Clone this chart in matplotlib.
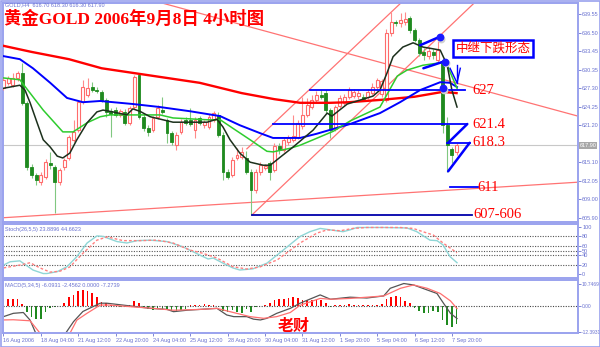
import matplotlib
matplotlib.use('Agg')
import matplotlib.pyplot as plt
import numpy as np

# ---------------- data ----------------
opens = [627.3, 628.2, 627.8, 629.0, 629.8, 624.9, 614.3, 613.0, 611.8, 612.7,
         614.9, 614.3, 611.8, 614.3, 615.8, 618.8, 620.4, 625.0, 626.2, 627.5,
         627.0, 626.7, 625.4, 623.5, 623.7, 622.9, 623.4, 621.6, 624.2, 629.5,
         622.5, 620.7, 620.4, 622.5, 623.7, 622.0, 619.9, 617.9, 620.1, 622.1,
         622.1, 620.4, 622.4, 621.2, 620.9, 622.1, 622.9, 619.6, 613.5, 613.0,
         615.8, 616.0, 615.8, 613.5, 610.5, 613.5, 614.2, 614.9, 613.8, 617.8,
         617.1, 618.4, 618.8, 619.3, 621.0, 622.9, 624.2, 625.4, 626.2, 626.5,
         623.7, 620.5, 624.4, 624.9, 625.9, 626.0, 626.0, 625.9, 625.8, 626.5,
         627.5, 626.4, 625.4, 636.4, 638.3, 638.0, 638.3, 638.9, 636.9, 635.3,
         633.3, 632.6, 633.3, 632.0, 631.6, 621.2, 617.3, 616.7]
highs = [629.2, 629.3, 629.9, 630.2, 631.5, 625.2, 614.8, 613.3, 613.5, 615.6,
         616.8, 614.6, 614.2, 615.8, 619.6, 622.1, 625.4, 628.7, 629.0, 628.3,
         627.5, 627.0, 625.7, 624.0, 624.2, 623.9, 623.8, 624.3, 629.5, 629.8,
         623.0, 621.2, 622.8, 624.5, 625.9, 622.4, 620.3, 620.0, 622.2, 622.5,
         624.0, 622.5, 622.8, 622.1, 623.0, 623.6, 623.4, 620.0, 614.0, 615.9,
         617.4, 617.6, 617.0, 614.0, 614.0, 615.2, 614.8, 615.3, 618.2, 618.3,
         619.2, 619.6, 622.9, 622.0, 625.9, 625.7, 626.2, 626.8, 627.0, 627.0,
         624.0, 624.6, 626.2, 626.4, 627.5, 627.2, 627.0, 626.3, 627.1, 628.2,
         629.0, 628.9, 637.1, 639.9, 638.6, 639.7, 639.9, 639.3, 637.2, 635.6,
         634.0, 634.1, 633.7, 635.2, 632.0, 622.5, 617.6, 618.3]
lows = [627.0, 627.9, 627.5, 628.5, 624.5, 613.8, 612.5, 611.3, 611.4, 612.3,
        614.0, 606.7, 611.4, 613.8, 615.5, 618.4, 620.0, 624.7, 625.9, 626.7,
        626.5, 625.0, 622.5, 619.3, 622.5, 622.6, 621.2, 621.2, 623.9, 622.2,
        620.3, 619.5, 620.0, 622.2, 623.0, 618.3, 618.0, 617.1, 619.8, 621.2,
        621.0, 619.1, 621.2, 620.8, 620.5, 621.8, 619.2, 612.2, 612.3, 612.6,
        615.4, 615.6, 613.1, 606.4, 610.0, 613.0, 613.8, 612.2, 613.4, 616.5,
        616.8, 618.0, 618.4, 618.9, 620.6, 622.6, 623.9, 625.0, 625.5, 623.3,
        619.1, 620.2, 624.0, 624.5, 625.5, 625.7, 625.6, 625.2, 625.5, 626.2,
        627.2, 625.9, 625.1, 635.9, 637.6, 637.4, 637.8, 636.5, 635.0, 632.6,
        631.9, 632.2, 632.2, 631.7, 619.9, 613.5, 614.9, 616.3]
closes = [628.7, 629.0, 629.0, 629.8, 624.9, 614.3, 613.0, 612.2, 613.0, 615.1,
          614.6, 611.8, 613.8, 615.5, 619.2, 620.1, 625.0, 627.5, 627.3, 627.0,
          626.9, 625.4, 623.4, 623.1, 622.9, 623.5, 621.6, 624.0, 629.2, 622.5,
          620.7, 620.1, 622.4, 624.0, 623.4, 619.9, 618.4, 619.6, 621.7, 621.6,
          621.4, 622.1, 621.6, 621.7, 622.6, 623.2, 619.6, 613.5, 612.7, 615.5,
          616.3, 616.8, 613.5, 610.5, 613.5, 614.6, 614.4, 613.5, 617.8, 617.1,
          618.8, 619.1, 619.4, 621.6, 622.9, 624.5, 625.4, 626.2, 625.9, 623.7,
          620.4, 624.2, 625.7, 625.9, 627.0, 626.7, 626.5, 625.6, 626.7, 627.5,
          628.7, 628.5, 636.4, 638.2, 638.0, 638.6, 638.8, 636.9, 635.3, 633.1,
          632.8, 633.5, 632.8, 633.6, 621.2, 617.9, 616.3, 617.9]

ma_red_idx = [0, 6, 14, 21, 28, 35, 42, 51, 58, 63.5, 70, 74, 81, 88, 94, 97]
ma_red_val = [634.3, 633.3, 632.1, 630.6, 629.8, 629.0, 628.2, 626.5, 625.5,
              624.9, 624.9, 625.0, 625.4, 625.9, 626.7, 626.5]
ma_blue_idx = [0, 3.5, 6.3, 10, 13.6, 17, 20.7, 27.7, 33.5, 40, 46.4, 50.6, 54.9,
               57.7, 63.5, 67.1, 74.2, 80.6, 84.9, 89.2, 93.5, 95.6, 97.1]
ma_blue_val = [632.6, 632.1, 630.6, 628.2, 625.7, 625.0, 625.2, 624.7, 624.2,
               623.5, 622.7, 621.2, 619.9, 619.1, 619.1, 619.8, 621.4, 623.2,
               625.0, 627.0, 628.3, 628.2, 627.5]
ma_green_idx = [0, 3.5, 6.3, 8.5, 12.7, 14.9, 17.9, 20.7, 22.8, 27.7, 33.5, 36.3,
                43.6, 46.4, 49.1, 52.8, 56.4, 57.7, 61.4, 63.5, 66.3, 70.6, 74.2,
                80.6, 84.3, 86.4, 89.8, 93.5, 95.0, 97.1]
ma_green_val = [629.0, 628.7, 625.9, 623.7, 620.1, 620.1, 621.6, 622.6, 622.9,
                622.9, 622.9, 622.4, 622.1, 622.1, 620.7, 618.8, 616.9, 616.8,
                617.4, 617.9, 618.8, 620.2, 621.9, 624.2, 629.3, 630.3, 631.1,
                631.5, 631.1, 627.3]
ma_dark_idx = [0, 3.5, 4.6, 5.7, 7.2, 8.5, 10, 11.5, 12.7, 14.2, 15.7, 17.9, 20,
               21.3, 23.4, 26.4, 27.7, 29.2, 31.4, 36.3, 43.6, 45.7, 47.0, 48.5,
               50.6, 52.8, 55.6, 57.1, 59.2, 62.0, 66.3, 69.3, 70.3, 73.6, 79.1,
               80.6, 82.1, 83.4, 85.5, 87.7, 89.8, 93.5, 95.0, 96.0, 97.1]
ma_dark_val = [627.3, 627.8, 627.0, 624.9, 621.6, 618.8, 617.6, 616.1, 615.8,
               616.6, 618.8, 621.6, 623.4, 623.7, 623.4, 622.9, 623.9, 623.5,
               622.6, 621.7, 621.7, 622.2, 620.9, 618.8, 616.6, 615.1, 614.6,
               614.6, 615.9, 617.6, 620.4, 623.2, 622.7, 624.7, 626.0, 627.0,
               629.8, 632.5, 634.1, 634.8, 634.1, 633.6, 631.1, 627.0, 624.2]

stoch_main_idx = [0, 1.4, 3.5, 6.3, 8.5, 9.3, 11.5, 13.6, 15.7, 17.9, 20, 21.3,
                  24.3, 26.4, 28.6, 31.4, 35, 38.4, 42.1, 43.8, 44.9, 47, 49.1,
                  50.6, 53.4, 56.4, 59.9, 63.5, 65.6, 67.8, 69.9, 72.7, 74.2,
                  75.7, 81.3, 86.4, 88.5, 91.3, 92.8, 94.1, 95.6, 97.1]
stoch_main_val = [19, 26, 28, 8.5, 1, 1, 5, 15.6, 37, 66, 81, 80, 69, 66, 71, 72,
                  69, 58, 40, 32, 34, 23, 13, 8.5, 11, 23, 51, 80, 90, 97, 94, 90,
                  94, 99, 99, 98, 90, 72, 71, 62, 37, 24]
stoch_sig_idx = [0, 3.5, 5.7, 7.8, 10, 12.1, 14.2, 17, 20, 22.2, 25.6, 29.2, 32.9,
                 36.3, 39.9, 42.7, 45.7, 49.1, 52.1, 54.9, 58.6, 62, 63.5, 67.1,
                 69.3, 72.1, 74.8, 77.8, 84.9, 87.7, 89.8, 92, 94.1, 97.1]
stoch_sig_val = [13, 19, 24, 13, 4, 6, 15, 44, 72, 79, 71, 71, 72, 66, 51, 44, 34,
                 15.6, 10.6, 15, 30, 55, 66, 87, 94, 92, 97, 99, 99, 97, 90, 83,
                 66, 45]
stoch_levels = [80, 60, 50, 40, 20]

macd_hist = [3.3, 3.4, 3.4, 3.3, 1.0, -2.6, -5.0, -6.3, -6.0, -2.6,
             -1.0, -0.5, 0.3, 1.7, 4.3, 5.5, 7.4, 7.9, 7.6, 6.6,
             4.7, 2.3, 1.5, 0.7, 0.3, -0.4, -0.5, 0.4, 2.6, 1.5,
             -1.0, -1.5, -1.8, -1.2, -1.5, -2.0, -2.5, -2.2, -1.8, -1.2,
             0.5, 0.8, 0.5, 0.9, 0.6, 0.8, -0.5, -2.4, -2.6, -1.8,
             -2.6, -3.0, -1.5, -2.6, -0.5, 0.3, 0.7, 1.5, 3.0, 3.3,
             3.3, 3.8, 4.3, 3.8, 2.8, 3.2, 3.0, 3.0, 2.8, 1.5,
             -0.5, 0.5, 0.8, 0.6, 1.0, 0.7, 0.5, 0.6, 0.8, 0.5,
             0.7, 1.0, 3.3, 4.6, 5.1, 4.6, 2.7, 1.5, -1.0, -2.2,
             -3.4, -3.1, -2.2, -2.7, -6.7, -9.2, -10.0, -8.4]
macd_line_idx = [0, 2.1, 4.25, 5.7, 7, 10, 13, 15, 17, 20.7, 22.1, 27.8, 31.4, 35,
                 36.4, 39.3, 42.1, 45.7, 47.8, 49.3, 52.1, 53.5, 55, 56.4, 58.5,
                 61.4, 63.5, 67.8, 70, 74.2, 77.8, 81.4, 82.8, 85.7, 87.8, 90.7,
                 92.8, 94.2, 95.7, 97.1]
macd_line_val = [-5.0, -3.4, -3.0, -6.7, -13.5, -16, -14, -7.4, -2.5, 1.5, 1.5,
                 0.0, -1.0, -1.5, -2.6, -1.9, -1.5, -1.0, -4.2, -5.0, -5.0, -6.2,
                 -6.6, -5.8, -3.4, -1.0, 1.5, 5.5, 3.4, 4.4, 4.0, 5.0, 8.7, 11.0,
                 10.3, 7.9, 6.2, 1.5, -3.4, -5.9]
macd_sig_idx = [0, 2.1, 5.7, 8, 11, 14, 15.7, 17.8, 20.7, 22.8, 27.8, 32.1, 36.4,
                42.1, 45.7, 48.5, 52.8, 55.7, 58.5, 61.4, 63.5, 67.8, 70, 74.2,
                77.8, 81.4, 85, 87.8, 90.7, 93.5, 95.7, 97.1]
macd_sig_val = [-6.6, -6.5, -7.0, -13.5, -16, -14, -6.7, -3.5, 0.6, 0.6, -0.3,
                -1.0, -1.9, -1.5, -1.0, -2.6, -5.0, -5.8, -5.0, -3.0, 0.5, 3.8,
                3.4, 3.8, 4.4, 5.0, 8.7, 10.3, 8.7, 6.2, 2.6, -1.1]

price_ticks = [639.55, 636.50, 633.45, 630.35, 627.30, 624.25, 621.20, 615.10,
               612.05, 609.00, 605.90]
stoch_ticks = [100, 80, 60, 50, 40, 20, 0]
macd_ticks = [10.7469, 0.0, -12.3931]
macd_tick_labels = ['10.7469', '0.00', '-12.3931']
date_idx = [0, 8, 16, 24, 32, 40, 48, 56, 64, 72, 80, 88, 96]
date_labels = ['16 Aug 2006', '18 Aug 04:00', '21 Aug 12:00', '22 Aug 20:00',
               '24 Aug 04:00', '25 Aug 12:00', '28 Aug 20:00', '30 Aug 04:00',
               '31 Aug 12:00', '1 Sep 20:00', '5 Sep 04:00', '6 Sep 12:00',
               '7 Sep 20:00']
last_price = 617.90

# annotations (bar index, price): line start, line end, level, label, label position
level_lines = [(65.6, 98.8, 627.0, '627', 100.3),
               (57.7, 99.3, 621.4, '621.4', 100.3),
               (95.0, 99.9, 618.3, '618.3', 100.3),
               (95.6, 101.5, 611.0, '611', 101.4),
               (53.2, 100.3, 606.4, '607-606', 100.7)]
flag_lines = [((95.2, 618.3), (99.3, 621.4)), ((95.2, 613.6), (99.8, 618.3)),
              ((89.2, 634.4), (93.1, 635.7)), ((89.9, 630.6), (94.2, 631.7))]
dots = [(93.5, 635.8), (94.5, 631.7), (94.0, 627.3)]
red_trend = [((31.4, 641.9), (123.0, 622.7)), ((-0.8, 605.9), (123.0, 611.8)),
             ((53.2, 606.4), (101.5, 641.9)), ((52.1, 617.3), (85.8, 641.9))]

# ---------------- figure ----------------
W, H = 600, 347
fig = plt.figure(figsize=(6, 3.47), dpi=100)
fig.patch.set_facecolor('white')
SMALL = ['Liberation Sans', 'DejaVu Sans']


def px_axes(x0, y0, x1, y1):
    return fig.add_axes([x0 / W, 1 - y1 / H, (x1 - x0) / W, (y1 - y0) / H])


ax = px_axes(3, 3, 578, 222)
axs = px_axes(3, 224, 578, 278)
axm = px_axes(3, 280, 578, 333)

frame_c = '#9aa2ee'
lab_c = '#6a72d0'
XL = (-0.107, 123.0)
for a in (ax, axs, axm):
    a.set_xlim(*XL)
    for s in a.spines.values():
        s.set_color(frame_c)
        s.set_linewidth(1.4)
    a.yaxis.tick_right()
    a.tick_params(axis='y', length=2, width=0.6, color=lab_c, labelsize=4.0,
                  labelcolor=lab_c, pad=1.0)
    a.tick_params(axis='x', length=0, labelbottom=False)
    a.set_facecolor('white')

ax.set_ylim(605.23, 641.37)
axs.set_ylim(-8.5, 106.4)
axm.set_ylim(-12.9, 12.7)

# ----- main panel -----
ax.axhline(last_price, color='#c8c8c8', lw=0.8, zorder=1)

for (p0, p1) in red_trend:
    ax.plot([p0[0], p1[0]], [p0[1], p1[1]], color='#ff7373', lw=0.9, zorder=2)

x = np.arange(len(opens))
o = np.array(opens); c = np.array(closes); h = np.array(highs); l = np.array(lows)
up = c >= o
ax.vlines(x[up], l[up], h[up], color='#ff8a8a', lw=0.8, zorder=3)
ax.vlines(x[~up], l[~up], h[~up], color='#80c880', lw=0.8, zorder=3)
ax.bar(x[up], (c - o)[up], bottom=o[up], width=0.62, facecolor='white',
       edgecolor='#ff6b6b', lw=0.8, zorder=4)
ax.bar(x[~up], (o - c)[~up], bottom=c[~up], width=0.62, facecolor='#1f8a1f',
       edgecolor='#1f8a1f', lw=0.6, zorder=4)

ax.plot(ma_red_idx, ma_red_val, color='#ff0000', lw=1.7, zorder=5)
ax.plot(ma_blue_idx, ma_blue_val, color='#0000ff', lw=1.4, zorder=5)
ax.plot(ma_green_idx, ma_green_val, color='#2ecc2e', lw=1.1, zorder=5)
ax.plot(ma_dark_idx, ma_dark_val, color='#1c301c', lw=1.1, zorder=6)

for (i0, i1, p, lab, li) in level_lines:
    col = '#0000aa' if lab == '607-606' else '#0000ff'
    ax.plot([i0, i1], [p, p], color=col, lw=1.3, zorder=6)
    ax.text(li, p, lab, color='#ff0000', fontsize=10.5,
            family=['Liberation Serif'], va='center', ha='left', zorder=8)

for (p0, p1) in flag_lines:
    ax.plot([p0[0], p1[0]], [p0[1], p1[1]], color='#0000ff', lw=1.8,
            solid_capstyle='round', zorder=7)

for (di, dp) in dots:
    ax.plot(di + 0.25, dp - 0.3, 'o', ms=4.6, color='#d0d0d0', zorder=7)
    ax.plot(di, dp, 'o', ms=4.6, color='#1a1aff', zorder=8)

# small down arrow
ax.plot([95.6, 97.1, 97.8], [630.6, 628.2, 630.6], color='#0000ff', lw=1.0, zorder=8)
ax.plot([97.1, 97.1], [631.1, 628.2], color='#0000ff', lw=1.0, zorder=8)

ax.set_yticks(price_ticks)
ax.set_yticklabels(['%.2f' % v for v in price_ticks], family=SMALL)
ax.text(1.003, (last_price - 605.23) / (641.37 - 605.23), '617.90',
        transform=ax.transAxes, fontsize=4.0, color='white', va='center',
        ha='left', family=SMALL,
        bbox=dict(boxstyle='square,pad=0.15', fc='#a8a8a8', ec='none'))

# ----- stochastic -----
for lv in stoch_levels:
    axs.axhline(lv, color='#555555', lw=0.8, ls=(0, (1, 1.3)))
axs.plot(stoch_main_idx, stoch_main_val, color='#8fd6d6', lw=1.0)
axs.plot(stoch_sig_idx, stoch_sig_val, color='#ff8080', lw=1.0, ls=(0, (2, 1.5)))
axs.set_yticks(stoch_ticks)
axs.set_yticklabels([str(v) for v in stoch_ticks], family=SMALL)

# ----- MACD -----
hist = np.array(macd_hist)
hx = np.arange(len(hist))
axm.bar(hx[hist >= 0], hist[hist >= 0], width=0.34, color='#ff0000', lw=0)
axm.bar(hx[hist < 0], hist[hist < 0], width=0.34, color='#1f8a1f', lw=0)
axm.axhline(0, color='#444444', lw=0.8, ls=(0, (1, 1.3)))
axm.plot(macd_line_idx, macd_line_val, color='#555555', lw=0.9)
axm.plot(macd_sig_idx, macd_sig_val, color='#ff7070', lw=0.9)
axm.set_yticks(macd_ticks)
axm.set_yticklabels(macd_tick_labels, family=SMALL)
axm.tick_params(axis='y', labelsize=3.5, pad=0.6)

axm.set_xticks(date_idx)
axm.set_xticklabels(date_labels, family=SMALL)
axm.tick_params(axis='x', length=2, width=0.6, color=lab_c, labelsize=4.0,
                labelcolor=lab_c, pad=1.5, labelbottom=True)
for t in axm.get_xticklabels():
    t.set_ha('left')

# ----- texts -----
fig.text(5 / W, 1 - 5 / H, 'GOLD,H4  616.70 618.30 616.30 617.90', fontsize=4.0,
         color=lab_c, va='center', ha='left', family=SMALL)
fig.text(4 / W, 1 - 19 / H, '黄金GOLD 2006年9月8日 4小时图', fontsize=12.5,
         color='#ff0000', va='center', ha='left', fontweight='bold',
         family=['Liberation Serif', 'Noto Sans CJK SC'])
fig.text(5 / W, 1 - 229 / H, 'Stoch(26,5,5) 23.8896 44.6623', fontsize=4.0,
         color=lab_c, va='center', ha='left', family=SMALL)
fig.text(5 / W, 1 - 286 / H, 'MACD(5,34,5) -6.0931 -2.4562 0.0000 -7.2739',
         fontsize=4.0, color=lab_c, va='center', ha='left', family=SMALL)
fig.text(493 / W, 1 - 48.5 / H, '中继下跌形态', fontsize=9, color='#ff0000',
         va='center', ha='center', family=['Noto Sans CJK SC'],
         bbox=dict(boxstyle='square,pad=0.18', fc='white', ec='#0000ff', lw=1.8))
fig.text(294 / W, 1 - 326 / H, '老财', fontsize=11.5, color='#ff0000',
         va='center', ha='center', fontweight='bold', family=['Noto Sans CJK SC'])

# outer frame
fig.add_artist(plt.Rectangle((0.5 / W, 0.5 / H), 1 - 1 / W, 1 - 1 / H,
                             transform=fig.transFigure, fill=False,
                             ec=frame_c, lw=1.2))

fig.savefig('out.png', dpi=100, facecolor='white')
